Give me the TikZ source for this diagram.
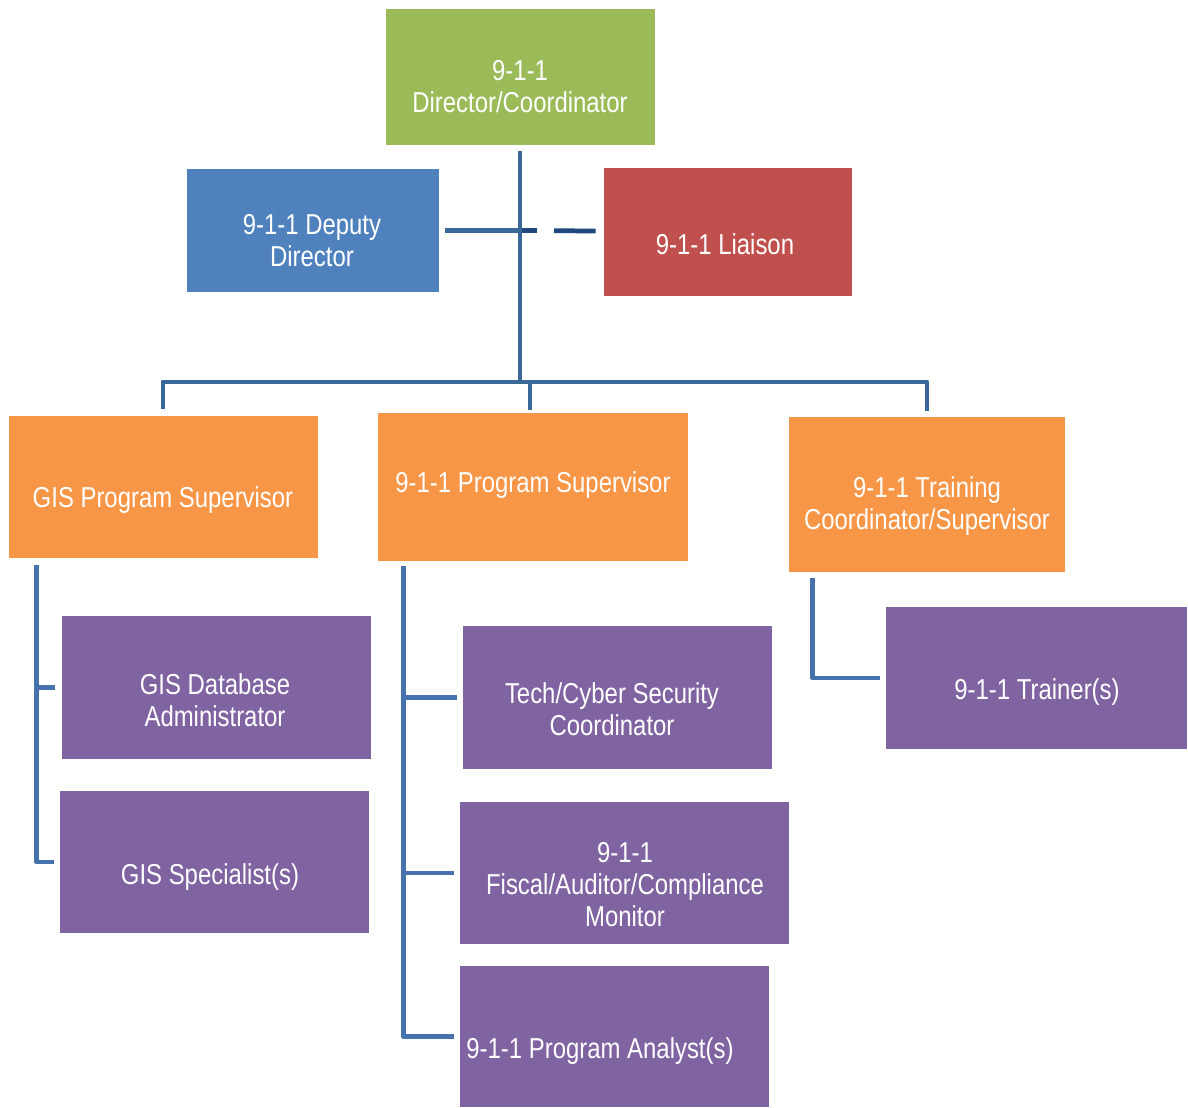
\documentclass[tikz,border=0pt]{standalone}
\usepackage{fontspec}
\setmainfont{Liberation Sans}[FakeStretch=0.83]
\usetikzlibrary{calc}
\definecolor{cgreen}{HTML}{9BBB59}
\definecolor{cblue}{HTML}{4F81BD}
\definecolor{cred}{HTML}{C0504D}
\definecolor{corange}{HTML}{F79646}
\definecolor{cpurple}{HTML}{8064A2}
\definecolor{clineA}{HTML}{3B6798}
\definecolor{clineB}{HTML}{4673AD}
\definecolor{cnavy}{HTML}{1F497D}
\tikzset{
  bx/.style 2 args={draw=none, inner sep=0pt, minimum width=#1*0.02cm, minimum height=#2*0.02cm},
  txt/.style={text=white, align=center, inner sep=0pt, yshift=-1.6pt, font=\fontsize{16.4}{18.1}\selectfont},
  conn/.style={draw=clineA, line width=2.8pt, line join=round},
  conn2/.style={draw=clineB, line width=2.8pt, line join=round},
  dashconn/.style={draw=cnavy, line width=2.7pt, dash pattern=on 0.34cm off 0.34cm on 1.2cm off 0.2cm}
}
\begin{document}
\begin{tikzpicture}[x=0.02cm, y=-0.02cm]
\fill[white] (0,0) rectangle (1188,1107);
\useasboundingbox (0,0) rectangle (1188,1107);

% boxes
\node[bx={269}{136}, fill=cgreen]  (dir)   at (520.5,77) {};
\node[bx={252}{123}, fill=cblue]   (dep)   at (313,230.5) {};
\node[bx={248}{128}, fill=cred]    (lia)   at (728,232) {};
\node[bx={309}{142}, fill=corange] (gisps) at (163.5,487) {};
\node[bx={310}{148}, fill=corange] (ps)    at (533,487) {};
\node[bx={276}{155}, fill=corange] (tr)    at (927,494.5) {};
\node[bx={309}{143}, fill=cpurple] (gdb)   at (216.5,687.5) {};
\node[bx={309}{142}, fill=cpurple] (gsp)   at (214.5,862) {};
\node[bx={309}{143}, fill=cpurple] (tech)  at (617.5,697.5) {};
\node[bx={329}{142}, fill=cpurple] (fis)   at (624.5,873) {};
\node[bx={309}{141}, fill=cpurple] (ana)   at (614.5,1036.5) {};
\node[bx={301}{142}, fill=cpurple] (trn)   at (1036.5,678) {};

% texts
\node[txt] (tdir)   at (520,84)  {9-1-1\\Director/Coordinator};
\node[txt] (tdep)   at (312,238) {9-1-1 Deputy\\Director};
\node[txt] (tlia)   at (725,241) {9-1-1 Liaison};
\node[txt] (tgisps) at (163,497) {GIS Program Supervisor};
\node[txt] (tps)    at (533,482) {9-1-1 Program Supervisor};
\node[txt] (ttr)    at (927,503) {9-1-1 Training\\Coordinator/Supervisor};
\node[txt] (tgdb)   at (215,697) {GIS Database\\Administrator};
\node[txt] (tgsp)   at (210,874) {GIS Specialist(s)};
\node[txt] (ttech)  at (612,706) {Tech/Cyber Security\\Coordinator};
\node[txt] (tfis)   at (625,882) {9-1-1\\Fiscal/Auditor/Compliance\\Monitor};
\node[txt] (tana)   at (600,1048) {9-1-1 Program Analyst(s)};
\node[txt] (ttrn)   at (1037,689) {9-1-1 Trainer(s)};

% connector coordinates
\coordinate (j1) at (520,230.5);
\coordinate (topbus) at (520,382);
\coordinate (g0) at ($(gisps.south west)+(28,7)$);
\coordinate (p0) at ($(ps.south west)+(26,5)$);
\coordinate (t0) at ($(tr.south west)+(24,6)$);

% top connectors
\draw[dashconn] (j1) -- ($(lia.west)+(-8,-1)$);
\draw[conn] ($(dep.east)+(6,0)$) -- (j1);
\draw[conn] ($(dir.south)+(-0.5,6)$) -- (topbus);
\draw[conn] ($(gisps.north)+(-0.5,-7)$) |- (topbus) -| ($(tr.north)+(0,-6)$);
\draw[conn] (topbus) -| ($(ps.north)+(-3,-3)$);

% GIS branch
\draw[conn2] (g0) |- ($(gsp.west)+(-6,0)$);
\draw[conn2] (g0 |- gdb.west) -- ($(gdb.west)+(-7,0)$);

% Program supervisor branch
\draw[conn2] (p0) |- ($(ana.west)+(-6,0)$);
\draw[conn2] (p0 |- tech.west) -- ($(tech.west)+(-6,0)$);
\draw[conn2] (p0 |- fis.west) -- ($(fis.west)+(-6,0)$);

% Training branch
\draw[conn2] (t0) |- ($(trn.west)+(-6,0)$);
\end{tikzpicture}
\end{document}
